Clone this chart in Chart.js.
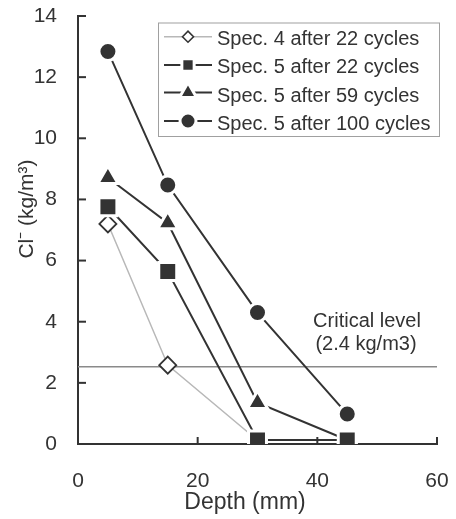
<!DOCTYPE html>
<html><head><meta charset="utf-8">
<script src="https://cdn.jsdelivr.net/npm/chart.js@4.4.1/dist/chart.umd.min.js"></script>
<style>html,body{margin:0;padding:0;background:#fff}#wrap{width:456px;height:519px}</style>
</head><body><div id="wrap"><canvas id="c" width="456" height="519"></canvas></div>
<script>
const depths = [5, 15, 30, 45];
const spec4_22 = [7.2, 2.58, 0.12, 0.12];
const spec5_22 = [7.76, 5.64, 0.13, 0.13];
const spec5_59 = [8.71, 7.23, 1.35, 0.13];
const spec5_100 = [12.84, 8.47, 4.3, 0.98];
const criticalLevel = 2.53;
const xTicks = [0, 20, 40, 60];
const yTicks = [0, 2, 4, 6, 8, 10, 12, 14];
const seriesNames = ['Spec. 4 after 22 cycles','Spec. 5 after 22 cycles','Spec. 5 after 59 cycles','Spec. 5 after 100 cycles'];

const dark = '#333333';
const pts = arr => depths.map((d,i)=>({x:d,y:arr[i]}));
const FONT = '"Liberation Sans", Arial, sans-serif';

const styles = [
  {color:'#b8b8b8', pointStyle:'rectRot', radius:8.5, bg:'#ffffff', pb:dark, bw:1.8, lw:1.4, lr:5.5, lbw:1.6},
  {color:dark, pointStyle:'rect', radius:12.7, bg:dark, pb:'#ffffff', bw:3, lw:2, lr:8.7, lbw:3},
  {color:dark, pointStyle:'triangle', radius:11.7, bg:dark, pb:'#ffffff', bw:3, lw:2, lr:9.9, lbw:3},
  {color:dark, pointStyle:'circle', radius:9, bg:dark, pb:'#ffffff', bw:3, lw:2, lr:8, lbw:3}
];
const seriesData = [spec4_22, spec5_22, spec5_59, spec5_100];
const orders = [5, 1, 2, 3];

const datasets = seriesData.map((arr,i)=>({
  label: seriesNames[i], data: pts(arr), showLine:true,
  borderColor: styles[i].color, borderWidth: styles[i].lw,
  pointStyle: styles[i].pointStyle, pointRadius: styles[i].radius,
  pointBackgroundColor: styles[i].bg, pointBorderColor: styles[i].pb, pointBorderWidth: styles[i].bw,
  order: orders[i]
}));
datasets.push({label:'critical', data:[{x:0,y:criticalLevel},{x:60,y:criticalLevel}], showLine:true,
  borderColor:'#8a8a8a', borderWidth:1.5, pointRadius:0, order:6});

const decor = {
  id:'decor',
  afterDraw(chart){
    const ctx = chart.ctx, xs = chart.scales.x, ys = chart.scales.y;
    ctx.save();
    ctx.strokeStyle = dark; ctx.lineWidth = 2;
    // inward ticks
    yTicks.forEach(v=>{ if(v===0) return; const y=ys.getPixelForValue(v); ctx.beginPath(); ctx.moveTo(xs.left, y); ctx.lineTo(xs.left+8, y); ctx.stroke(); });
    xTicks.forEach(v=>{ if(v===0) return; const x=xs.getPixelForValue(v); ctx.beginPath(); ctx.moveTo(x, ys.bottom); ctx.lineTo(x, ys.bottom-7); ctx.stroke(); });
    ctx.fillStyle = dark;
    // axis titles
    ctx.font = '23px '+FONT; ctx.textAlign='center'; ctx.textBaseline='alphabetic';
    ctx.fillText('Depth (mm)', 245, 509);
    ctx.save(); ctx.translate(33, 209); ctx.rotate(-Math.PI/2);
    ctx.font = '21px '+FONT; ctx.fillText('Cl⁻ (kg/m³)', 0, 0); ctx.restore();
    // critical level text
    ctx.font = '20px '+FONT; ctx.textAlign='center';
    ctx.fillText('Critical level', 367, 327);
    ctx.fillText('(2.4 kg/m3)', 366, 350);
    // legend
    const lx = 158, ly = 22.5, lw = 281, lh = 113.5;
    ctx.strokeStyle = '#a0a0a0'; ctx.lineWidth = 1;
    ctx.strokeRect(lx+0.5, ly+0.5, lw, lh);
    const rows = [36.7, 65, 92.5, 121];
    const bases = [45, 73.3, 101.7, 130];
    seriesNames.forEach((n,i)=>{
      const y = rows[i], s = styles[i];
      ctx.strokeStyle = s.color; ctx.lineWidth = s.lw;
      ctx.beginPath(); ctx.moveTo(164, y); ctx.lineTo(212, y); ctx.stroke();
      ctx.fillStyle = s.bg; ctx.strokeStyle = s.pb; ctx.lineWidth = s.lbw;
      Chart.helpers.drawPoint(ctx, {pointStyle:s.pointStyle, rotation:0, borderWidth:s.lbw, radius:s.lr}, 188, y);
      ctx.fillStyle = dark; ctx.font = '20px '+FONT; ctx.textAlign='left'; ctx.textBaseline='alphabetic';
      ctx.fillText(n, 217, bases[i]);
    });
    ctx.restore();
  }
};

new Chart(document.getElementById('c'), {
  type:'scatter',
  data:{datasets},
  options:{
    responsive:false, animation:false, devicePixelRatio:1,
    layout:{padding:{left:0,right:19,top:16,bottom:0}},
    plugins:{legend:{display:false}, tooltip:{enabled:false}},
    scales:{
      x:{type:'linear', min:0, max:60, afterBuildTicks(s){ s.ticks = xTicks.map(v=>({value:v})); },
        afterFit(s){ s.height = 75; s.paddingLeft = 0; s.paddingRight = 0; },
        grid:{display:true, drawOnChartArea:false, drawTicks:false},
        border:{display:true, color:dark, width:2},
        ticks:{color:dark, font:{family:FONT, size:21}, padding:25, maxRotation:0}
      },
      y:{type:'linear', min:0, max:14, afterBuildTicks(s){ s.ticks = yTicks.map(v=>({value:v})); },
        afterFit(s){ s.width = 78; s.paddingTop = 0; s.paddingBottom = 0; },
        grid:{display:true, drawOnChartArea:false, drawTicks:false},
        border:{display:true, color:dark, width:2},
        ticks:{color:dark, font:{family:FONT, size:21}, padding:21}
      }
    }
  },
  plugins:[decor]
});
</script></body></html>
